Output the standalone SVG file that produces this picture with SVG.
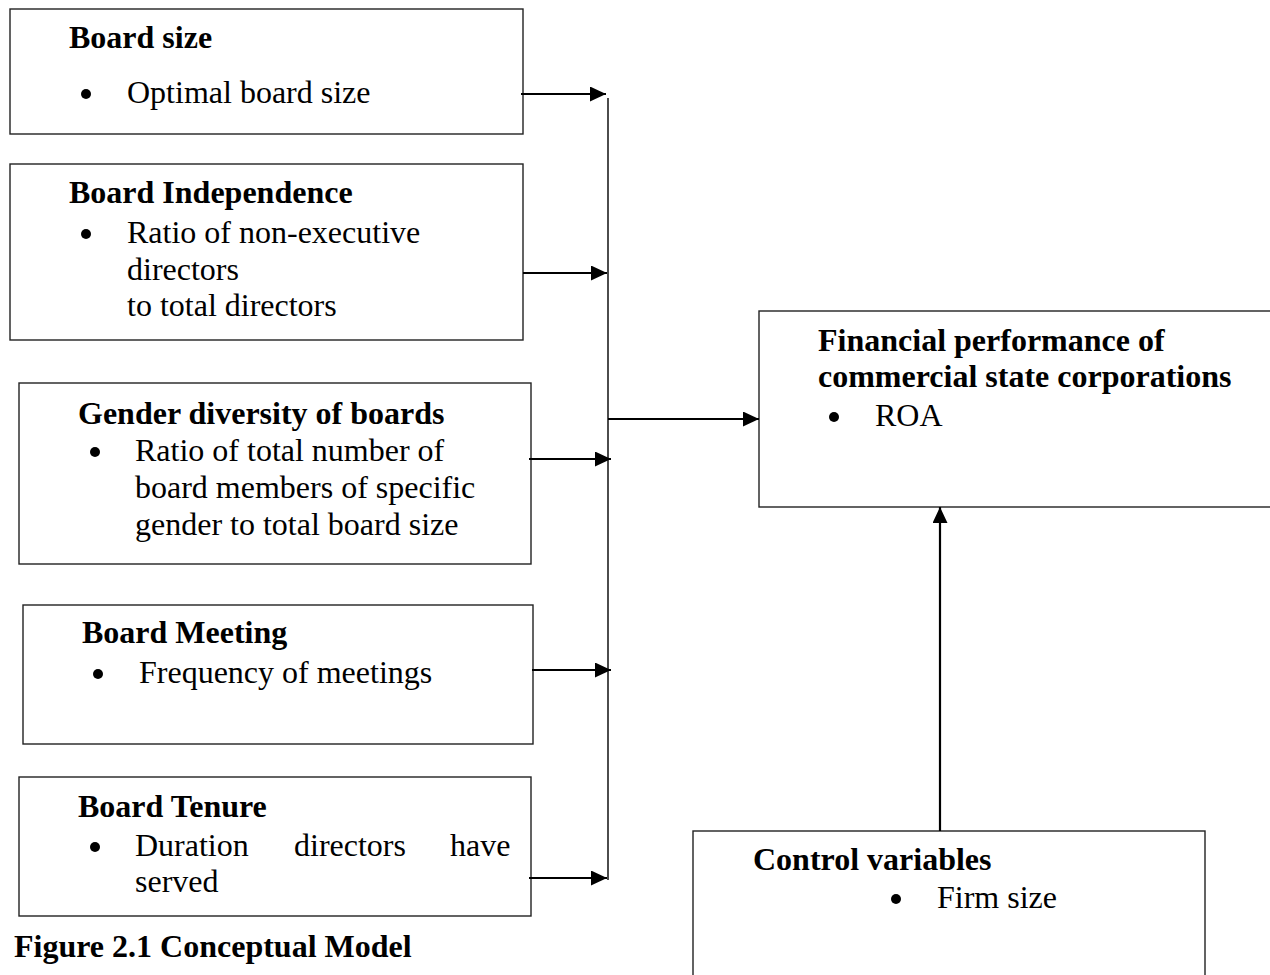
<svg xmlns="http://www.w3.org/2000/svg" width="1270" height="975" viewBox="0 0 1270 975">
<style>
.box{fill:#fff;stroke:#222;stroke-width:1.4}
.t{font-family:"Liberation Serif","Times New Roman",serif;font-size:32px;fill:#000}
.b{font-weight:bold}
.dot{fill:#000}
.conn{stroke:#000;fill:none}
.arr{stroke-width:2.2}
.bus{stroke-width:1.4}
</style>
<defs>
<marker id="ah" markerUnits="userSpaceOnUse" markerWidth="17" markerHeight="16" refX="16" refY="7.5" orient="auto">
<path d="M0,0 L16,7.5 L0,15 z" fill="#000"/>
</marker>
</defs>
<rect width="1270" height="975" fill="#fff"/>
<g id="board-size">
<rect class="box" x="10" y="9" width="513" height="125"/>
<text class="t b" x="69" y="48">Board size</text>
<circle class="dot" cx="86" cy="94" r="5"/>
<text class="t" x="127" y="103">Optimal board size</text>
</g>
<g id="board-independence">
<rect class="box" x="10" y="164" width="513" height="176"/>
<text class="t b" x="69" y="203">Board Independence</text>
<circle class="dot" cx="86" cy="234" r="5"/>
<text class="t" x="127" y="243">Ratio of non-executive</text>
<text class="t" x="127" y="280">directors</text>
<text class="t" x="127" y="316">to total directors</text>
</g>
<g id="gender-diversity">
<rect class="box" x="19" y="383" width="512" height="181"/>
<text class="t b" x="78" y="424">Gender diversity of boards</text>
<circle class="dot" cx="95" cy="452" r="5"/>
<text class="t" x="135" y="461">Ratio of total number of</text>
<text class="t" x="135" y="498">board members of specific</text>
<text class="t" x="135" y="535">gender to total board size</text>
</g>
<g id="board-meeting">
<rect class="box" x="23" y="605" width="510" height="139"/>
<text class="t b" x="82" y="643">Board Meeting</text>
<circle class="dot" cx="98" cy="674" r="5"/>
<text class="t" x="139" y="683">Frequency of meetings</text>
</g>
<g id="board-tenure">
<rect class="box" x="19" y="777" width="512" height="139"/>
<text class="t b" x="78" y="817">Board Tenure</text>
<circle class="dot" cx="95" cy="847" r="5"/>
<text class="t" y="856"><tspan x="135">Duration</tspan><tspan x="294">directors</tspan><tspan x="450">have</tspan></text>
<text class="t" x="135" y="892">served</text>
</g>
<g id="financial-performance">
<rect class="box" x="759" y="311" width="530" height="196"/>
<text class="t b" x="818" y="351">Financial performance of</text>
<text class="t b" x="818" y="387">commercial state corporations</text>
<circle class="dot" cx="834" cy="417" r="5"/>
<text class="t" x="875" y="426">ROA</text>
</g>
<g id="control-variables">
<rect class="box" x="693" y="831" width="512" height="170"/>
<text class="t b" x="753" y="870">Control variables</text>
<circle class="dot" cx="896" cy="899" r="5"/>
<text class="t" x="937" y="908">Firm size</text>
</g>
<g id="connectors">
<line class="conn bus" x1="608" y1="98" x2="608" y2="880"/>
<line class="conn arr" x1="521" y1="94" x2="606" y2="94" marker-end="url(#ah)"/>
<line class="conn arr" x1="523" y1="273" x2="607" y2="273" marker-end="url(#ah)"/>
<line class="conn arr" x1="529" y1="459" x2="611" y2="459" marker-end="url(#ah)"/>
<line class="conn arr" x1="532" y1="670" x2="611" y2="670" marker-end="url(#ah)"/>
<line class="conn arr" x1="529" y1="878" x2="607" y2="878" marker-end="url(#ah)"/>
<line class="conn arr" x1="608" y1="419" x2="759" y2="419" marker-end="url(#ah)"/>
<line class="conn arr" x1="940" y1="831" x2="940" y2="507" marker-end="url(#ah)"/>
</g>
<text id="caption" class="t b" x="14" y="957">Figure 2.1 Conceptual Model</text>
</svg>
